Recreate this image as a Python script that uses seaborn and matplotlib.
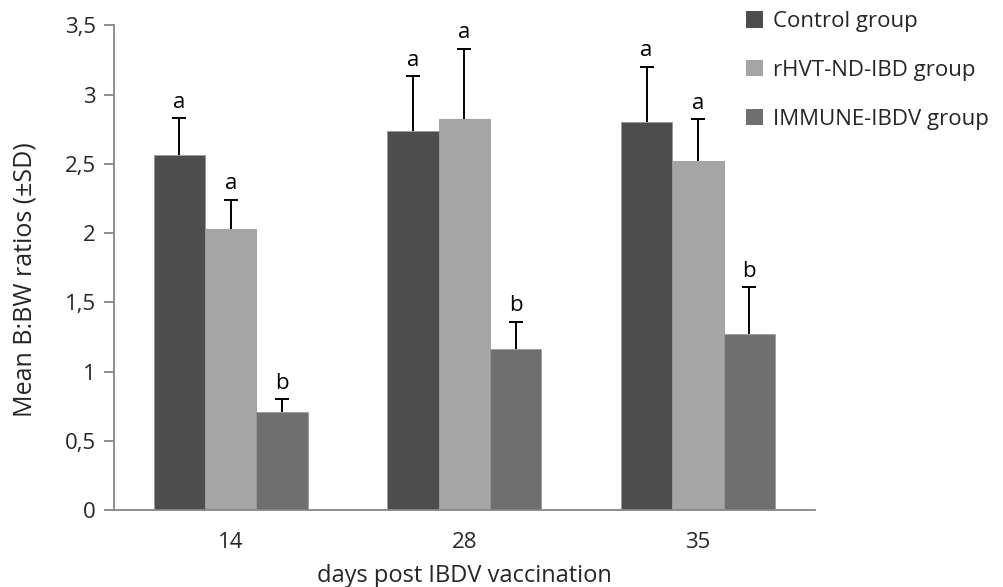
import numpy as np
import pandas as pd
import matplotlib
matplotlib.use("Agg")
import matplotlib.pyplot as plt
import seaborn as sns
from matplotlib.patches import Patch

days = ["14", "28", "35"]
groups = ["Control group", "rHVT-ND-IBD group", "IMMUNE-IBDV group"]
means = {
    "Control group": [2.56, 2.74, 2.80],
    "rHVT-ND-IBD group": [2.03, 2.82, 2.52],
    "IMMUNE-IBDV group": [0.71, 1.16, 1.27],
}
sds = {
    "Control group": [0.27, 0.39, 0.40],
    "rHVT-ND-IBD group": [0.21, 0.51, 0.30],
    "IMMUNE-IBDV group": [0.09, 0.20, 0.34],
}
letters = {
    "Control group": ["a", "a", "a"],
    "rHVT-ND-IBD group": ["a", "a", "a"],
    "IMMUNE-IBDV group": ["b", "b", "b"],
}
colors = ["#4d4d4d", "#a5a5a5", "#6f6f6f"]
yticks = [0, 0.5, 1, 1.5, 2, 2.5, 3, 3.5]
ytick_labels = ["0", "0,5", "1", "1,5", "2", "2,5", "3", "3,5"]

rows = []
for g in groups:
    for i, d in enumerate(days):
        rows.append({"day": d, "group": g, "mean": means[g][i], "sd": sds[g][i]})
df = pd.DataFrame(rows)

sns.set_style("white")
plt.rcParams["font.family"] = ["Open Sans", "DejaVu Sans"]

fig = plt.figure(figsize=(10.04, 5.87), dpi=100)
ax = fig.add_axes([0.1135, 0.131, 0.698, 0.826])

sns.barplot(data=df, x="day", y="mean", hue="group", hue_order=groups, order=days,
            palette=colors, width=0.66, gap=0, errorbar=None, ax=ax,
            edgecolor="#9a9a9a", linewidth=0.6, legend=False)

for gi, g in enumerate(groups):
    cont = ax.containers[gi]
    for i, bar in enumerate(cont):
        xc = bar.get_x() + bar.get_width() / 2
        h = bar.get_height()
        sd = sds[g][i]
        _, caps, _ = ax.errorbar([xc], [h], yerr=[[0], [sd]], fmt="none", ecolor="black",
                                 elinewidth=1.4, capsize=5, capthick=1.4, zorder=3)
        for c in caps:
            if np.allclose(c.get_ydata(), h):
                c.set_visible(False)
        ax.text(xc, h + sd + 0.04, letters[g][i], ha="center", va="bottom",
                fontsize=16, color="black")

ax.set_ylim(0, 3.5)
ax.set_xlim(-0.5, 2.5)
ax.set_yticks(yticks)
ax.set_yticklabels(ytick_labels, fontsize=16)
ax.set_xticks(range(len(days)))
ax.set_xticklabels(days, fontsize=16)
ax.set_xticks([-0.5, 0.5, 1.5, 2.5], minor=True)
ax.tick_params(axis="x", which="major", length=0, pad=16)
ax.tick_params(axis="x", which="minor", length=8, width=1.3, color="#868686", direction="out")
ax.tick_params(axis="y", length=7, width=1.3, color="#868686", direction="out", pad=6, left=True)

for s in ["top", "right"]:
    ax.spines[s].set_visible(False)
for s in ["left", "bottom"]:
    ax.spines[s].set_color("#868686")
    ax.spines[s].set_linewidth(1.3)

ax.set_xlabel("days post IBDV vaccination", fontsize=17, labelpad=8)
ax.set_ylabel("Mean B:BW ratios (\u00b1SD)", fontsize=18)
ax.yaxis.set_label_coords(-0.127, 0.475)
ax.yaxis.label.set_va("center")

handles = [Patch(facecolor=c, edgecolor="none") for c in colors]
fig.legend(handles, groups, loc="upper left", bbox_to_anchor=(0.723, 1.015),
           frameon=False, fontsize=16, handlelength=0.75, handleheight=0.75,
           handletextpad=0.45, labelspacing=1.25)

fig.savefig("out.png", dpi=100)
